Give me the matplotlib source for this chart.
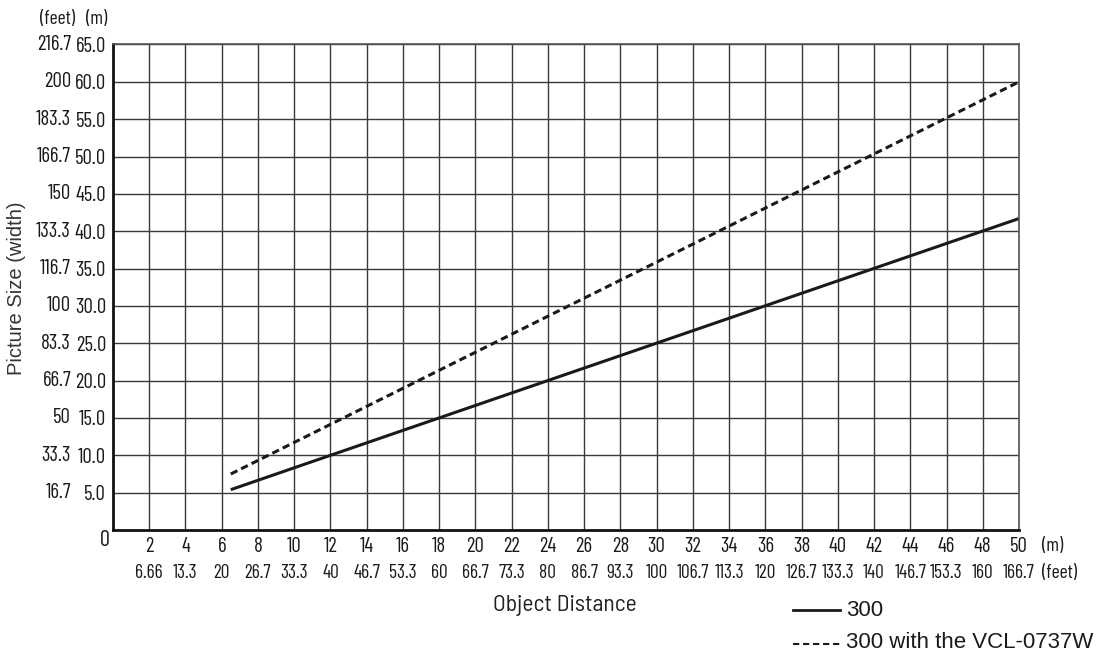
import matplotlib
matplotlib.use("Agg")
import matplotlib.pyplot as plt
from matplotlib.transforms import blended_transform_factory
from matplotlib.lines import Line2D

# ---- data ----
x_ticks_m = [2, 4, 6, 8, 10, 12, 14, 16, 18, 20, 22, 24, 26, 28, 30, 32, 34,
             36, 38, 40, 42, 44, 46, 48, 50]
x_labels_feet = ["6.66", "13.3", "20", "26.7", "33.3", "40", "46.7", "53.3", "60",
                 "66.7", "73.3", "80", "86.7", "93.3", "100", "106.7", "113.3", "120",
                 "126.7", "133.3", "140", "146.7", "153.3", "160", "166.7"]
y_ticks_m = [5, 10, 15, 20, 25, 30, 35, 40, 45, 50, 55, 60, 65]
y_labels_m = ["5.0", "10.0", "15.0", "20.0", "25.0", "30.0", "35.0", "40.0",
              "45.0", "50.0", "55.0", "60.0", "65.0"]
y_labels_feet = ["16.7", "33.3", "50", "66.7", "83.3", "100", "116.7", "133.3",
                 "150", "166.7", "183.3", "200", "216.7"]

dist_300 = [6.5, 12, 50]
size_300 = [5.4, 10.0, 41.7]
dist_vcl = [6.5, 50]
size_vcl = [7.5, 60.0]

label_300 = "300"
label_vcl = "300 with the VCL-0737W"

# ---- figure ----
W, H = 1101, 657
fig = plt.figure(figsize=(W / 100, H / 100), dpi=100)
left, right, top, bottom = 113, 1019, 44.5, 530
ax = fig.add_axes([left / W, 1 - bottom / H, (right - left) / W, (bottom - top) / H])
ax.set_xlim(0, 50)
ax.set_ylim(0, 65)

cond = ["Barlow Condensed", "DejaVu Sans"]
tick_fs = 15
feet_fs = 14
ink = "#1a1a1a"

ax.set_xticks(x_ticks_m)
ax.set_xticklabels([str(v) for v in x_ticks_m], fontsize=tick_fs, family=cond, color=ink)
ax.set_yticks(y_ticks_m)
ax.set_yticklabels(y_labels_m, fontsize=tick_fs, family=cond, color=ink)
ax.tick_params(axis="x", length=0, pad=5)
ax.tick_params(axis="y", length=0, pad=5)
ax.grid(True, color="#3a3a3a", linewidth=1.0)
ax.set_axisbelow(True)
for s in ["top", "right"]:
    ax.spines[s].set_color("#555555")
    ax.spines[s].set_linewidth(1.2)
for s in ["left", "bottom"]:
    ax.spines[s].set_color("#111111")
    ax.spines[s].set_linewidth(2.0)

ax.plot(dist_300, size_300, color=ink, linewidth=2.2, solid_capstyle="butt")
ax.plot(dist_vcl, size_vcl, color=ink, linewidth=2.2, linestyle=(0, (2.4, 1.4)))

# feet labels column on y
ty = blended_transform_factory(fig.transFigure, ax.transData)
for v, lab in zip(y_ticks_m, y_labels_feet):
    fig.text(71 / W, v, lab, transform=ty, ha="right", va="center",
             fontsize=tick_fs, family=cond, color=ink)
# feet labels row on x
tx = blended_transform_factory(ax.transData, fig.transFigure)
for v, lab in zip(x_ticks_m, x_labels_feet):
    fig.text(v, 1 - 573 / H, lab, transform=tx, ha="center", va="center",
             fontsize=feet_fs, family=cond, color=ink)

fig.text(105 / W, 1 - 540 / H, "0", ha="center", va="center", fontsize=16, family=cond, color=ink)
fig.text(1042 / W, 1 - 546 / H, "(m)", ha="left", va="center", fontsize=14, family=cond, color=ink)
fig.text(1042 / W, 1 - 573 / H, "(feet)", ha="left", va="center", fontsize=14, family=cond, color=ink)
fig.text(58 / W, 1 - 19 / H, "(feet)", ha="center", va="center", fontsize=14, family=cond, color=ink)
fig.text(97 / W, 1 - 19 / H, "(m)", ha="center", va="center", fontsize=14, family=cond, color=ink)

fig.text(565 / W, 1 - 605 / H, "Object Distance", ha="center", va="center",
         fontsize=17, family=["Barlow Semi Condensed", "DejaVu Sans"], color="#222222")
fig.text(17 / W, 1 - 288 / H, "Picture Size (width)", ha="center", va="center",
         rotation=90, fontsize=14.5, family="Liberation Sans", color="#333333")

# legend
fig.add_artist(Line2D([793 / W, 840 / W], [1 - 610 / H, 1 - 610 / H],
                      transform=fig.transFigure, color=ink, linewidth=2.0))
fig.add_artist(Line2D([793 / W, 840 / W], [1 - 644 / H, 1 - 644 / H],
                      transform=fig.transFigure, color=ink, linewidth=1.5,
                      linestyle=(0, (3.0, 1.8))))
fig.text(846 / W, 1 - 610 / H, label_300, ha="left", va="center", fontsize=16,
         family="Liberation Sans", color=ink)
fig.text(846 / W, 1 - 643 / H, label_vcl, ha="left", va="center", fontsize=16,
         family="Liberation Sans", color=ink)

fig.savefig("out.png", dpi=100)
